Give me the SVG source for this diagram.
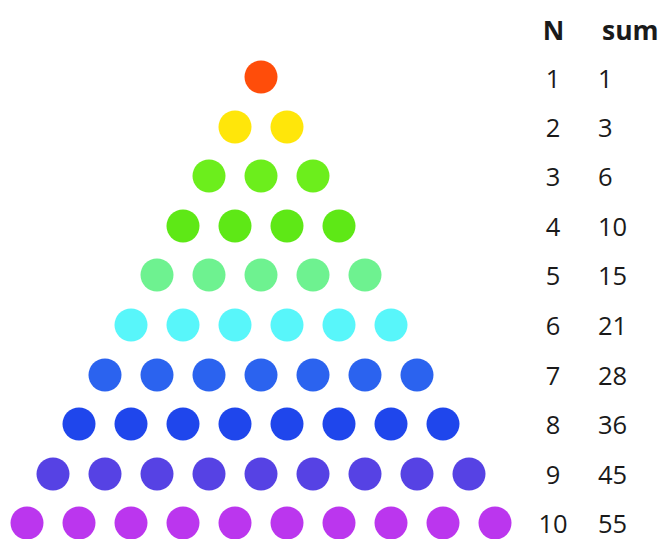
<svg xmlns="http://www.w3.org/2000/svg" width="665" height="539" viewBox="0 0 665 539">
<style>
.t{font-family:"Open Sans","Noto Sans","Liberation Sans",sans-serif;font-size:25.5px;fill:#1a1a1a}
.h{font-weight:bold;font-size:26.5px}
.n{text-anchor:middle}
.r1{fill:#ff4d0a}.r2{fill:#ffe60a}.r3{fill:#6cee1c}.r4{fill:#5ee816}.r5{fill:#6ef290}.r6{fill:#58f6fa}.r7{fill:#2b63ef}.r8{fill:#1f46ec}.r9{fill:#5642e4}.r10{fill:#bb36ee}
</style>
<rect width="665" height="539" fill="#fff"/>
<g id="header">
<text class="t h n" x="553.5" y="39.5">N</text>
<text class="t h" x="602" y="39.5">sum</text>
</g>
<g id="row1"><circle class="r1" cx="261" cy="77" r="16.5"/><text class="t n" x="553" y="87.5">1</text><text class="t" x="598" y="87.5">1</text></g>
<g id="row2"><circle class="r2" cx="235" cy="127" r="16.5"/><circle class="r2" cx="287" cy="127" r="16.5"/><text class="t n" x="553" y="137">2</text><text class="t" x="598" y="137">3</text></g>
<g id="row3"><circle class="r3" cx="209" cy="176" r="16.5"/><circle class="r3" cx="261" cy="176" r="16.5"/><circle class="r3" cx="313" cy="176" r="16.5"/><text class="t n" x="553" y="186">3</text><text class="t" x="598" y="186">6</text></g>
<g id="row4"><circle class="r4" cx="183" cy="226" r="16.5"/><circle class="r4" cx="235" cy="226" r="16.5"/><circle class="r4" cx="287" cy="226" r="16.5"/><circle class="r4" cx="339" cy="226" r="16.5"/><text class="t n" x="553" y="236">4</text><text class="t" x="598" y="236">10</text></g>
<g id="row5"><circle class="r5" cx="157" cy="275" r="16.5"/><circle class="r5" cx="209" cy="275" r="16.5"/><circle class="r5" cx="261" cy="275" r="16.5"/><circle class="r5" cx="313" cy="275" r="16.5"/><circle class="r5" cx="365" cy="275" r="16.5"/><text class="t n" x="553" y="285">5</text><text class="t" x="598" y="285">15</text></g>
<g id="row6"><circle class="r6" cx="131" cy="325" r="16.5"/><circle class="r6" cx="183" cy="325" r="16.5"/><circle class="r6" cx="235" cy="325" r="16.5"/><circle class="r6" cx="287" cy="325" r="16.5"/><circle class="r6" cx="339" cy="325" r="16.5"/><circle class="r6" cx="391" cy="325" r="16.5"/><text class="t n" x="553" y="335">6</text><text class="t" x="598" y="335">21</text></g>
<g id="row7"><circle class="r7" cx="105" cy="375" r="16.5"/><circle class="r7" cx="157" cy="375" r="16.5"/><circle class="r7" cx="209" cy="375" r="16.5"/><circle class="r7" cx="261" cy="375" r="16.5"/><circle class="r7" cx="313" cy="375" r="16.5"/><circle class="r7" cx="365" cy="375" r="16.5"/><circle class="r7" cx="417" cy="375" r="16.5"/><text class="t n" x="553" y="385">7</text><text class="t" x="598" y="385">28</text></g>
<g id="row8"><circle class="r8" cx="79" cy="424" r="16.5"/><circle class="r8" cx="131" cy="424" r="16.5"/><circle class="r8" cx="183" cy="424" r="16.5"/><circle class="r8" cx="235" cy="424" r="16.5"/><circle class="r8" cx="287" cy="424" r="16.5"/><circle class="r8" cx="339" cy="424" r="16.5"/><circle class="r8" cx="391" cy="424" r="16.5"/><circle class="r8" cx="443" cy="424" r="16.5"/><text class="t n" x="553" y="434">8</text><text class="t" x="598" y="434">36</text></g>
<g id="row9"><circle class="r9" cx="53" cy="474" r="16.5"/><circle class="r9" cx="105" cy="474" r="16.5"/><circle class="r9" cx="157" cy="474" r="16.5"/><circle class="r9" cx="209" cy="474" r="16.5"/><circle class="r9" cx="261" cy="474" r="16.5"/><circle class="r9" cx="313" cy="474" r="16.5"/><circle class="r9" cx="365" cy="474" r="16.5"/><circle class="r9" cx="417" cy="474" r="16.5"/><circle class="r9" cx="469" cy="474" r="16.5"/><text class="t n" x="553" y="484">9</text><text class="t" x="598" y="484">45</text></g>
<g id="row10"><circle class="r10" cx="27" cy="523" r="16.5"/><circle class="r10" cx="79" cy="523" r="16.5"/><circle class="r10" cx="131" cy="523" r="16.5"/><circle class="r10" cx="183" cy="523" r="16.5"/><circle class="r10" cx="235" cy="523" r="16.5"/><circle class="r10" cx="287" cy="523" r="16.5"/><circle class="r10" cx="339" cy="523" r="16.5"/><circle class="r10" cx="391" cy="523" r="16.5"/><circle class="r10" cx="443" cy="523" r="16.5"/><circle class="r10" cx="495" cy="523" r="16.5"/><text class="t n" x="553" y="533">10</text><text class="t" x="598" y="533">55</text></g>
<g id="connectors"/>
</svg>
